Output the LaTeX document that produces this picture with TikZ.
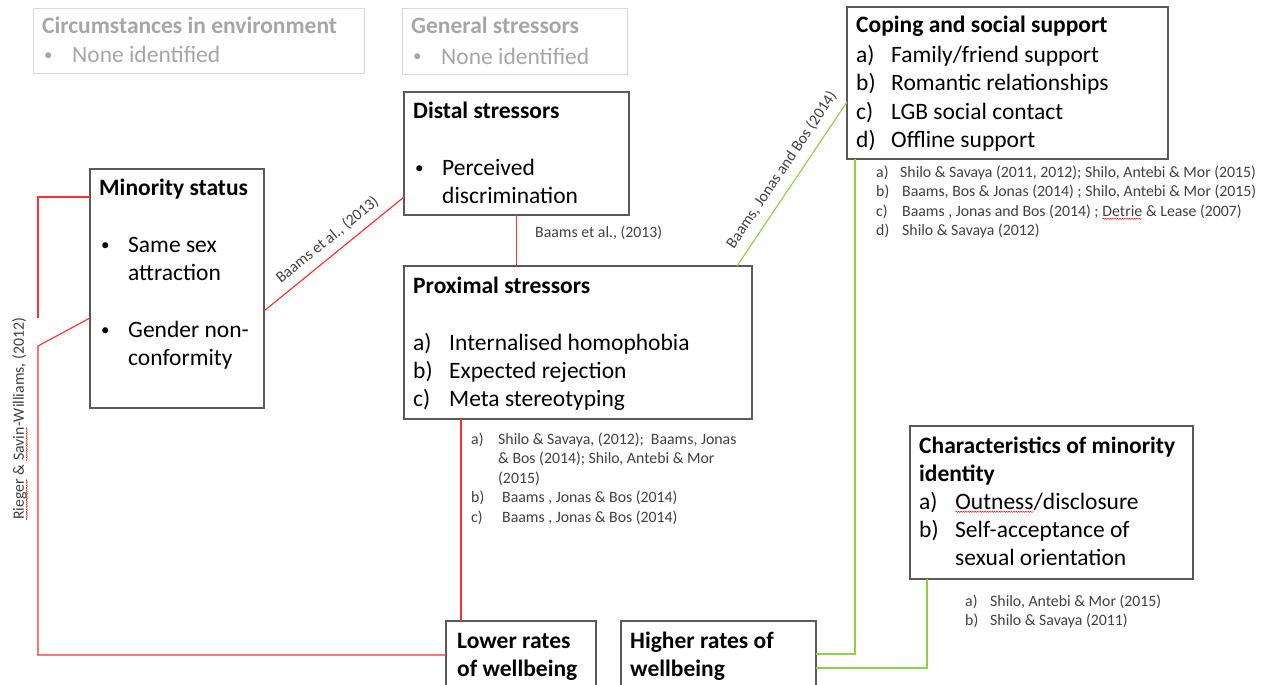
\documentclass[tikz,border=0pt]{standalone}
\usepackage{fontspec}
\setmainfont{Carlito}
\usetikzlibrary{decorations.pathmorphing}

\definecolor{boxline}{HTML}{595959}
\definecolor{faint}{HTML}{D9D9D9}
\definecolor{fainttext}{HTML}{A6A6A6}
\definecolor{linkred}{HTML}{FF3030}
\definecolor{linkgreen}{HTML}{8FCF4C}
\definecolor{citegray}{HTML}{404040}

% word with a wavy spell-check underline
\newcommand\sqg[1]{\tikz[baseline=(sw.base)]{\node[inner sep=0pt,outer sep=0pt] (sw) {#1};
  \draw[red, line width=0.45pt, decorate, decoration={snake,amplitude=0.6pt,segment length=2.4pt}]
    ([yshift=-2.8pt]sw.base west) -- ([yshift=-2.8pt]sw.base east);}}

\tikzset{
  box/.style={draw=boxline, line width=1.2pt, fill=white, inner sep=0pt, outer sep=0pt, anchor=north west},
  ghostbox/.style={draw=faint, line width=1pt, inner sep=0pt, outer sep=0pt, anchor=north west},
  head/.style={anchor=base west, inner sep=0pt, font=\fontsize{23.5}{28}\selectfont\bfseries},
  item/.style={anchor=base west, inner sep=0pt, font=\fontsize{23.5}{28}\selectfont},
  dot/.style={anchor=base west, inner sep=0pt, font=\fontsize{17}{20}\selectfont, yshift=2pt},
  ghosthead/.style={head, text=fainttext},
  ghostitem/.style={item, text=fainttext},
  ghostdot/.style={dot, text=fainttext},
  cite/.style={anchor=base west, inner sep=0pt, font=\fontsize{15.8}{19}\selectfont, text=citegray},
  redlink/.style={draw=linkred, line width=1.15pt},
  greenlink/.style={draw=linkgreen, line width=1.15pt},
  lbl/.style={font=\fontsize{15.8}{19}\selectfont, text=citegray, inner sep=1.5pt},
}

\begin{document}
\begin{tikzpicture}[x=1pt,y=-1pt]
\useasboundingbox (0,0) rectangle (1266,685);
\clip (0,0) rectangle (1266,685);

% ---------- boxes ----------
\node[ghostbox, minimum width=331pt, minimum height=65pt] (circ) at (33,9) {};
\node[ghostbox, minimum width=225pt, minimum height=66pt] (gen) at (402,9) {};
\node[box, minimum width=225pt, minimum height=123pt] (dist) at (404,92) {};
\node[box, minimum width=321pt, minimum height=152pt] (cop) at (847,7) {};
\node[box, minimum width=174pt, minimum height=239pt] (ms) at (90,169) {};
\node[box, minimum width=348pt, minimum height=153pt] (prox) at (404,266) {};
\node[box, minimum width=283pt, minimum height=153pt] (ch) at (910,426) {};
\node[box, minimum width=150pt, minimum height=68pt] (low) at (446,621) {};
\node[box, minimum width=195pt, minimum height=68pt] (high) at (621,621) {};

% ---------- box texts ----------
\node[ghosthead] (circ-t) at (42,34) {Circumstances in environment};
\node[ghostdot] (circ-b) at (44,63) {•};
\node[ghostitem] (circ-1) at (72,63) {None identified};

\node[ghosthead] (gen-t) at (411,34) {General stressors};
\node[ghostdot] (gen-b) at (413,64) {•};
\node[ghostitem] (gen-1) at (441,64) {None identified};

\node[head] (dist-t) at (413,118) {Distal stressors};
\node[dot] (dist-b) at (415,175) {•};
\node[item] (dist-1) at (442,175) {Perceived};
\node[item] (dist-2) at (442,203) {discrimination};

\node[head] (cop-t) at (856,33) {Coping and social support};
\node[item] (cop-a) at (856,63) {a)};
\node[item] (cop-1) at (891,63) {Family/friend support};
\node[item] (cop-b) at (856,91) {b)};
\node[item] (cop-2) at (891,91) {Romantic relationships};
\node[item] (cop-c) at (856,119) {c)};
\node[item] (cop-3) at (891,119) {LGB social contact};
\node[item] (cop-d) at (856,147) {d)};
\node[item] (cop-4) at (891,147) {Offline support};

\node[head] (ms-t) at (99,195) {Minority status};
\node[dot] (ms-b1) at (101,252) {•};
\node[item] (ms-1) at (128,252) {Same sex};
\node[item] (ms-2) at (128,280) {attraction};
\node[dot] (ms-b2) at (101,337) {•};
\node[item] (ms-3) at (128,337) {Gender non-};
\node[item] (ms-4) at (128,365) {conformity};

\node[head] (prox-t) at (413,293) {Proximal stressors};
\node[item] (prox-a) at (413,350) {a)};
\node[item] (prox-1) at (449,350) {Internalised homophobia};
\node[item] (prox-b) at (413,378) {b)};
\node[item] (prox-2) at (449,378) {Expected rejection};
\node[item] (prox-c) at (413,406) {c)};
\node[item] (prox-3) at (449,406) {Meta stereotyping};

\node[head] (ch-t) at (919,453) {Characteristics of minority};
\node[head] (ch-t2) at (919,481) {identity};
\node[item] (ch-a) at (919,509) {a)};
\node[item] (ch-1) at (955,509) {\sqg{Outness}/disclosure};
\node[item] (ch-b) at (919,537) {b)};
\node[item] (ch-2) at (955,537) {Self-acceptance of};
\node[item] (ch-3) at (955,565) {sexual orientation};

\node[head] (low-t) at (457,648) {Lower rates};
\node[head] (low-t2) at (457,676) {of wellbeing};
\node[head] (high-t) at (630,648) {Higher rates of};
\node[head] (high-t2) at (630,676) {wellbeing};

% ---------- citations ----------
\node[cite] (cc-a) at (876,177) {a)};
\node[cite] (cc-1) at (900,177) {Shilo \& Savaya (2011, 2012); Shilo, Antebi \& Mor (2015)};
\node[cite] (cc-b) at (876,196.5) {b)};
\node[cite] (cc-2) at (902,196.5) {Baams, Bos \& Jonas (2014) ; Shilo, Antebi \& Mor (2015)};
\node[cite] (cc-c) at (876,216) {c)};
\node[cite] (cc-3) at (902,216) {Baams , Jonas and Bos (2014) ; \sqg{Detrie} \& Lease (2007)};
\node[cite] (cc-d) at (876,235.5) {d)};
\node[cite] (cc-4) at (902,235.5) {Shilo \& Savaya (2012)};

\node[cite] (pc-a) at (471,444) {a)};
\node[cite] (pc-1) at (498,444) {Shilo \& Savaya, (2012);\ \ Baams, Jonas};
\node[cite] (pc-1b) at (498,463.5) {\& Bos (2014); Shilo, Antebi \& Mor};
\node[cite] (pc-1c) at (498,483) {(2015)};
\node[cite] (pc-b) at (471,502.5) {b)};
\node[cite] (pc-2) at (502,502.5) {Baams , Jonas \& Bos (2014)};
\node[cite] (pc-c) at (471,522) {c)};
\node[cite] (pc-3) at (502,522) {Baams , Jonas \& Bos (2014)};

\node[cite] (hc-a) at (965,606) {a)};
\node[cite] (hc-1) at (990,606) {Shilo, Antebi \& Mor (2015)};
\node[cite] (hc-b) at (965,625) {b)};
\node[cite] (hc-2) at (990,625) {Shilo \& Savaya (2011)};

% ---------- red links ----------
\draw[redlink] ([yshift=-22.5pt]ms.east) -- node[lbl, sloped, above=6pt, pos=0.52] (l-ms) {Baams et al., (2013)} ([yshift=-43.5pt]dist.west);
\draw[redlink] (dist.south) -- (dist.south |- prox.north);
\node[cite] (l-dist) at (535,237) {Baams et al., (2013)};
\draw[redlink] ([xshift=57pt]prox.south west) -- ([xshift=15pt]low.north west);

\coordinate (rg-top) at (38,318);
\coordinate (rg-bend) at (38,346);
\draw[redlink] ([yshift=-28pt]ms.north west) -| (rg-top);
\draw[redlink] ([yshift=-149pt]ms.north west) -- (rg-bend) |- (low.west);
\node[lbl, rotate=90] (l-rg) at (20,419) {\sqg{Rieger} \& \sqg{Savin}-Williams, (2012)};

% ---------- green links ----------
\draw[greenlink] ([xshift=-15pt]prox.north east) -- node[lbl, sloped, above=7.5pt, pos=0.53] (l-cop) {Baams, Jonas and Bos (2014)} ([yshift=-95pt]cop.north west);
\draw[greenlink] ([xshift=8pt]cop.south west) |- ([yshift=1pt]high.east);
\draw[greenlink] ([xshift=17pt]ch.south west) |- ([yshift=-13pt]high.east);
\end{tikzpicture}
\end{document}
